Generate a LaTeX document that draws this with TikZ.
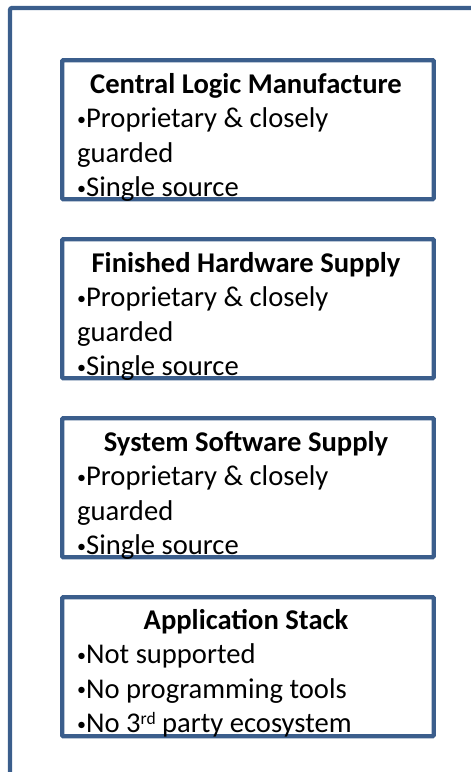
\documentclass[tikz,border=0pt]{standalone}
\usepackage{fontspec}
\setmainfont{Carlito}
\definecolor{frameblue}{RGB}{59,94,140}
\newcommand\mybul{\raisebox{2.5pt}{\fontsize{18}{18}\selectfont•}}
\begin{document}
\begin{tikzpicture}[x=1pt,y=-1pt,
  boxst/.style={draw=frameblue,line width=4.3pt,rounded corners=1pt,inner sep=0pt,minimum width=371.5pt,minimum height=139pt,anchor=north west},
  titlest/.style={anchor=base,inner sep=0pt,font=\fontsize{28.6}{34}\selectfont\bfseries},
  bodyst/.style={anchor=base west,inner sep=0pt,font=\fontsize{28.6}{34}\selectfont}]
\clip (0,0) rectangle (471,772);
\draw[frameblue,line width=4.3pt,rounded corners=2pt] (10,800) -- (10,8) -- (490,8);
\foreach \i/\t/\title in {1/58/Central Logic Manufacture,2/237/Finished Hardware Supply,3/416/System Software Supply}{
  \node[boxst] (box\i) at (60,\t) {};
  \node[titlest] (title\i) at (246,\t+35) {\title};
  \node[bodyst] (a\i) at (77,\t+69.5) {\mybul Proprietary \& closely};
  \node[bodyst] (b\i) at (77,\t+104) {guarded};
  \node[bodyst] (c\i) at (77,\t+138.5) {\mybul Single source};
}
\node[boxst] (box4) at (60,595) {};
\node[titlest] (title4) at (246,595+34) {Application Stack};
\node[bodyst] (a4) at (77,595+68.5) {\mybul Not supported};
\node[bodyst] (b4) at (77,595+103) {\mybul No programming tools};
\node[bodyst] (c4) at (77,595+137.5) {\mybul No 3\raisebox{0.55ex}{\fontsize{17.5}{17.5}\selectfont rd} party ecosystem};
\end{tikzpicture}
\end{document}
